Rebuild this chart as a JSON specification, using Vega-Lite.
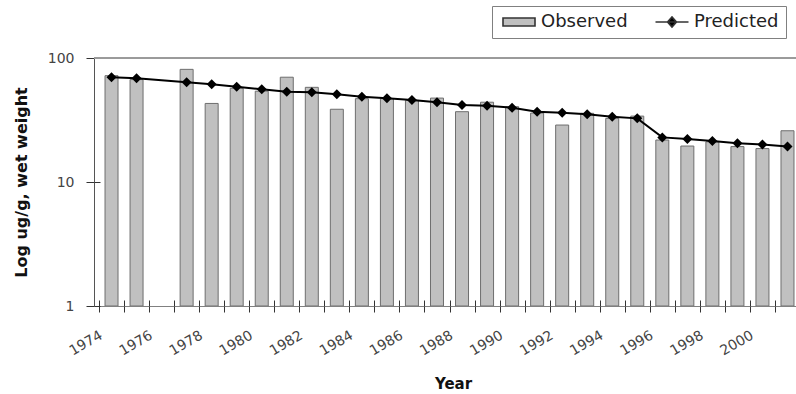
{
  "$schema": "https://vega.github.io/schema/vega-lite/v6.json",
  "width": 702,
  "height": 248,
  "autosize": {"type": "none"},
  "padding": {"left": 94, "top": 58, "right": 0, "bottom": 88},
  "background": "white",
  "config": {"view": {"stroke": null}, "font": "DejaVu Sans"},
  "data": {
    "values": [
      {"Year": 1974, "Observed": 72, "Predicted": 70},
      {"Year": 1975, "Observed": 67, "Predicted": 68.6},
      {"Year": 1977, "Observed": 81, "Predicted": 63.7},
      {"Year": 1978, "Observed": 43, "Predicted": 61.4},
      {"Year": 1979, "Observed": 57, "Predicted": 58.7},
      {"Year": 1980, "Observed": 54, "Predicted": 55.9},
      {"Year": 1981, "Observed": 70, "Predicted": 53.5},
      {"Year": 1982, "Observed": 58, "Predicted": 52.9},
      {"Year": 1983, "Observed": 38.6, "Predicted": 50.9},
      {"Year": 1984, "Observed": 47, "Predicted": 48.7},
      {"Year": 1985, "Observed": 47, "Predicted": 47.3},
      {"Year": 1986, "Observed": 45.5, "Predicted": 45.8},
      {"Year": 1987, "Observed": 47.5, "Predicted": 44},
      {"Year": 1988, "Observed": 36.9, "Predicted": 41.8},
      {"Year": 1989, "Observed": 44, "Predicted": 41.2},
      {"Year": 1990, "Observed": 40.5, "Predicted": 39.7},
      {"Year": 1991, "Observed": 36, "Predicted": 36.9},
      {"Year": 1992, "Observed": 28.8, "Predicted": 36.2},
      {"Year": 1993, "Observed": 35.8, "Predicted": 35.2},
      {"Year": 1994, "Observed": 32.6, "Predicted": 33.6},
      {"Year": 1995, "Observed": 34, "Predicted": 32.6},
      {"Year": 1996, "Observed": 21.8, "Predicted": 22.9},
      {"Year": 1997, "Observed": 19.5, "Predicted": 22.2},
      {"Year": 1998, "Observed": 21.1, "Predicted": 21.4},
      {"Year": 1999, "Observed": 19.3, "Predicted": 20.5},
      {"Year": 2000, "Observed": 18.6, "Predicted": 20.1},
      {"Year": 2001, "Observed": 25.9, "Predicted": 19.3}
    ]
  },
  "layer": [
    {
      "mark": {"type": "bar", "size": 13, "fill": "#c0c0c0", "stroke": "#6e6e6e", "strokeWidth": 1, "clip": true},
      "encoding": {
        "x": {
          "field": "Year",
          "type": "quantitative",
          "scale": {"domain": [1973.5, 2001.14], "nice": false, "zero": false},
          "axis": {
            "orient": "bottom",
            "values": [1973.5, 1974.5, 1975.5, 1976.5, 1977.5, 1978.5, 1979.5, 1980.5, 1981.5, 1982.5, 1983.5, 1984.5, 1985.5, 1986.5, 1987.5, 1988.5, 1989.5, 1990.5, 1991.5, 1992.5, 1993.5, 1994.5, 1995.5, 1996.5, 1997.5, 1998.5, 1999.5, 2000.5],
            "labelExpr": "(datum.value + 0.5) % 2 === 0 && datum.value < 2000 ? format(datum.value + 0.5, 'd') : ''",
            "labelAngle": -30,
            "labelAlign": "right",
            "labelBaseline": "middle",
            "labelPadding": 22,
            "labelOffset": 2,
            "labelOverlap": false,
            "labelFontSize": 14,
            "labelColor": "#444",
            "tickSize": 6,
            "tickColor": "#333",
            "domainColor": "#808080",
            "grid": false,
            "title": "Year",
            "titleFontSize": 15,
            "titleFontWeight": "bold",
            "titleColor": "#111",
            "titleX": 359,
            "titleY": 82,
            "titleBaseline": "alphabetic",
            "titleAlign": "center"
          }
        },
        "y": {
          "field": "Observed",
          "type": "quantitative",
          "scale": {"type": "log", "domain": [1, 100], "nice": false},
          "axis": {
            "orient": "left",
            "values": [1, 10, 100],
            "format": "d",
            "labelFontSize": 14,
            "labelColor": "#444",
            "labelPadding": 12,
            "tickSize": 8,
            "tickColor": "#333",
            "domainColor": "#555",
            "grid": false,
            "title": "Log ug/g, wet weight",
            "titleFontSize": 16,
            "titleFontWeight": "bold",
            "titleColor": "#111",
            "titlePadding": 18
          }
        },
        "y2": {"datum": 1}
      }
    },
    {
      "mark": {"type": "rule", "color": "#9a9a9a", "strokeWidth": 1},
      "encoding": {"y": {"datum": 100, "type": "quantitative", "axis": null}}
    },
    {
      "mark": {"type": "line", "color": "#000000", "strokeWidth": 2, "clip": true, "point": {"filled": true, "shape": "diamond", "size": 100, "color": "#000000"}},
      "encoding": {
        "x": {
          "field": "Year",
          "type": "quantitative",
          "axis": {
            "orient": "bottom",
            "values": [1973.5, 1974.5, 1975.5, 1976.5, 1977.5, 1978.5, 1979.5, 1980.5, 1981.5, 1982.5, 1983.5, 1984.5, 1985.5, 1986.5, 1987.5, 1988.5, 1989.5, 1990.5, 1991.5, 1992.5, 1993.5, 1994.5, 1995.5, 1996.5, 1997.5, 1998.5, 1999.5, 2000.5],
            "labels": false,
            "domain": false,
            "grid": false,
            "tickSize": -6,
            "tickColor": "#333",
            "title": null
          }
        },
        "y": {
          "field": "Predicted",
          "type": "quantitative",
          "axis": {
            "orient": "left",
            "values": [1, 10, 100],
            "labels": false,
            "domain": false,
            "grid": false,
            "tickSize": -6,
            "tickColor": "#333",
            "title": null
          }
        }
      }
    },
    {
      "transform": [{"fold": ["Observed", "Predicted"], "as": ["Series", "Value"]}],
      "mark": {"type": "point", "filled": true, "size": 0, "opacity": 1},
      "encoding": {
        "x": {"field": "Year", "type": "quantitative", "axis": null},
        "y": {"field": "Value", "type": "quantitative", "axis": null},
        "color": {
          "field": "Series",
          "type": "nominal",
          "scale": {"domain": ["Observed", "Predicted"], "range": ["#c0c0c0", "#000000"]},
          "legend": {
            "title": null,
            "orient": "none",
            "legendX": 398,
            "legendY": -52,
            "direction": "horizontal",
            "strokeColor": "#808080",
            "fillColor": "white",
            "padding": 7,
            "symbolSize": 100,
            "symbolOffset": 11,
            "symbolStrokeColor": "#333",
            "symbolStrokeWidth": 1.6,
            "labelFontSize": 18,
            "labelColor": "#222",
            "labelOffset": 13,
            "columnPadding": 24
          }
        },
        "shape": {
          "field": "Series",
          "type": "nominal",
          "scale": {
            "domain": ["Observed", "Predicted"],
            "range": ["M-3.2,-0.8H3.2V0.8H-3.2Z", "M-3.3,0H3.3M-0.9,0L0,-1L0.9,0L0,1Z"]
          }
        }
      }
    }
  ],
  "resolve": {"axis": {"x": "independent", "y": "independent"}}
}
